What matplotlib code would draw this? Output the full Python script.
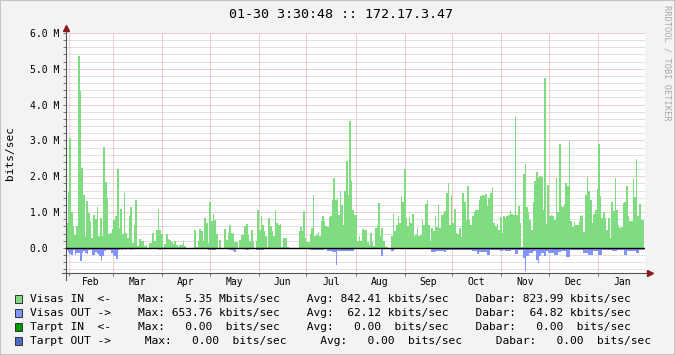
import numpy as np
import matplotlib
matplotlib.use("Agg")
import matplotlib.pyplot as plt
from matplotlib.patches import Rectangle

# graph window: one year up to 01-30 3:30:48
START = np.datetime64("2014-01-30T03:30:48")
END = np.datetime64("2015-01-30T03:30:48")

period_bounds = ["2014-01-30T03:30:48", "2014-03-30", "2014-05-29", "2014-07-28",
                 "2014-09-26", "2014-11-25", "2015-01-30T03:30:48"]

# Visas IN (Mbit/s)
in_p1 = [0.70, 1.55, 3.08, 1.01, 0.60, 0.36, 0.60, 5.35, 4.37, 2.22, 1.48, 0.33,
         1.31, 0.97, 0.75, 0.28, 0.92, 0.81, 1.15, 0.33, 0.84, 0.33, 2.83, 1.85,
         1.39, 0.39, 0.42, 0.53, 0.78, 0.88, 2.20, 0.56, 1.10, 0.39, 1.53, 0.42,
         0.28, 0.88, 1.14, 0.14, 0.65, 1.34, 0.05, 0.25, 0.19, 0.19, 0.05, 0.07,
         0.00, 0.14, 0.14, 0.42, 0.19, 0.51, 1.10]
in_p2 = [0.51, 0.40, 0.03, 0.12, 0.40, 0.26, 0.23, 0.16, 0.12, 0.19, 0.07, 0.03,
         0.07, 0.09, 0.19, 0.05, 0.00, 0.00, 0.00, 0.00, 0.00, 0.51, 0.03, 0.19,
         0.53, 0.47, 0.19, 0.84, 0.70, 0.14, 1.28, 0.74, 0.96, 0.79, 0.40, 0.00,
         0.21, 0.00, 0.00, 0.54, 0.21, 0.42, 0.65, 0.42, 0.40, 0.17, 0.17, 0.00,
         0.21, 0.37, 0.37, 0.62, 0.68, 0.37, 0.19, 0.49, 0.16]
in_p3 = [0.00, 0.20, 1.07, 0.51, 0.90, 0.65, 0.47, 0.33, 0.02, 0.84, 0.60, 0.48,
         0.34, 1.07, 0.70, 0.65, 0.68, 0.02, 0.29, 0.29, 0.29, 0.02, 0.00, 0.00,
         0.00, 0.00, 0.00, 0.00, 0.48, 0.58, 0.47, 1.02, 0.28, 0.16, 0.17, 0.40,
         0.56, 1.49, 0.33, 0.37, 0.45, 0.33, 0.76, 0.88, 0.74, 0.60, 0.59, 0.86,
         0.88, 1.35, 1.94, 1.35, 1.40, 0.93, 1.58, 1.21, 0.65, 1.58, 2.42, 1.49]
in_p4 = [3.55, 1.86, 1.07, 0.93, 0.93, 0.19, 0.34, 0.19, 0.53, 0.51, 0.51, 0.16,
         0.09, 0.42, 0.17, 0.05, 0.56, 0.60, 1.26, 0.33, 0.56, 0.19, 0.05, 0.02,
         0.00, 0.00, 0.33, 0.96, 0.47, 0.65, 0.88, 0.70, 1.46, 1.29, 2.19, 0.84,
         0.62, 0.87, 0.70, 0.96, 0.33, 0.37, 0.56, 0.34, 0.37, 0.79, 0.65, 1.24,
         1.33, 0.65, 0.20, 0.56, 0.47, 0.88, 0.59, 1.21, 0.56, 0.93, 0.96]
in_p5 = [1.02, 1.54, 1.80, 0.65, 1.49, 0.70, 1.09, 0.42, 0.40, 0.56, 0.31, 1.54,
         1.28, 0.79, 1.74, 0.79, 0.65, 0.88, 1.00, 1.07, 1.07, 1.33, 1.46, 1.49,
         1.46, 1.51, 1.18, 1.40, 1.54, 1.69, 0.70, 0.60, 0.68, 0.51, 0.87, 0.42,
         0.88, 0.84, 0.90, 0.93, 1.04, 0.96, 0.93, 3.66, 0.93, 1.18, 0.70, 0.03,
         2.05, 2.33, 1.14, 1.00, 0.79, 0.51, 1.28, 1.86, 2.11, 1.96]
in_p6 = [2.00, 1.98, 1.07, 4.73, 0.68, 1.77, 0.90, 0.93, 0.88, 0.79, 1.96, 1.00,
         2.89, 1.16, 1.15, 1.24, 1.80, 1.74, 2.98, 0.74, 0.58, 0.72, 0.63, 0.65,
         0.74, 0.88, 0.93, 0.44, 1.49, 1.98, 1.58, 1.35, 0.70, 0.96, 1.07, 1.65,
         2.89, 1.44, 0.84, 1.00, 0.84, 0.51, 0.84, 0.28, 1.28, 1.02, 1.96, 1.07,
         0.65, 0.56, 0.58, 1.26, 1.28, 1.74, 0.88, 0.74, 0.74, 1.93, 1.42, 2.47,
         0.90, 1.24, 0.79, 0.79]

# Visas OUT (Mbit/s, drawn below zero)
out_p1 = [-0.07, -0.12, -0.16, -0.19, -0.07, -0.21, -0.14, -0.14, -0.37, -0.14,
          -0.09, -0.14, -0.16, -0.07, -0.05, -0.19, -0.19, -0.11, -0.16, -0.23,
          -0.37, -0.23, -0.09, -0.05, -0.05, -0.07, -0.14, -0.19, -0.23, -0.30,
          -0.05, -0.03, -0.05, -0.02, -0.07, -0.02, -0.02, -0.05, -0.02, -0.01,
          -0.01, -0.03, -0.01, -0.01, -0.01, -0.02, -0.01, -0.01, -0.02, -0.01,
          -0.02, -0.03, -0.02, -0.03]
out_p2 = [-0.05, -0.02, -0.01, -0.02, -0.01, -0.02, -0.01, -0.02, -0.01, -0.01,
          -0.02, -0.01, -0.01, -0.02, -0.01, -0.01, -0.01, 0.00, 0.00, 0.00,
          0.00, 0.00, -0.01, -0.01, -0.01, -0.04, -0.04, -0.01, -0.01, -0.05,
          -0.05, -0.05, -0.05, -0.05, -0.01, 0.00, -0.01, 0.00, 0.00, -0.01,
          -0.01, -0.01, -0.07, -0.07, -0.09, -0.11, -0.02, -0.02, -0.02, -0.02,
          -0.02, -0.02, -0.05, -0.05, -0.03, -0.03, -0.03]
out_p3 = [-0.01, -0.05, -0.05, -0.05, -0.05, -0.05, -0.01, -0.03, -0.03, -0.03,
          -0.03, -0.03, -0.03, -0.03, -0.01, -0.01, -0.01, -0.01, 0.00, 0.00,
          0.00, 0.00, 0.00, 0.00, 0.00, -0.01, -0.03, -0.03, -0.03, -0.03,
          -0.01, -0.01, -0.01, -0.07, -0.07, -0.07, -0.07, -0.07, -0.07, -0.07,
          -0.07, -0.03, -0.03, -0.09, -0.09, -0.09, -0.12, -0.12, -0.47, -0.09,
          -0.09, -0.09, -0.09, -0.09, -0.09, -0.09]
out_p4 = [-0.09, -0.09, -0.09, -0.03, -0.03, -0.02, -0.03, -0.04, -0.03, -0.03,
          -0.02, -0.03, -0.03, -0.04, -0.03, -0.02, -0.03, -0.03, -0.03, -0.23,
          -0.02, -0.02, -0.02, -0.02, -0.02, -0.09, -0.09, -0.03, -0.03, -0.02,
          -0.03, -0.04, -0.03, -0.03, -0.02, -0.03, -0.03, -0.04, -0.03, -0.03,
          -0.02, -0.03, -0.03, -0.03, -0.04, -0.03, -0.02, -0.03, -0.03, -0.12,
          -0.12, -0.12, -0.09, -0.09, -0.09, -0.09, -0.09]
out_p5 = [-0.12, -0.05, -0.05, -0.05, -0.05, -0.05, -0.05, -0.05, -0.05, -0.06,
          -0.06, -0.06, -0.06, -0.06, -0.06, -0.06, -0.06, -0.09, -0.09, -0.09,
          -0.16, -0.11, -0.11, -0.11, -0.11, -0.11, -0.21, -0.21, -0.05, -0.05,
          -0.05, -0.05, -0.05, -0.05, -0.09, -0.09, -0.05, -0.09, -0.09, -0.09,
          -0.09, -0.06, -0.06, -0.17, -0.17, -0.05, -0.05, -0.05, -0.28, -0.65,
          -0.23, -0.23, -0.14, -0.14, -0.09, -0.09, -0.33, -0.42]
out_p6 = [-0.23, -0.14, -0.14, -0.23, -0.09, -0.14, -0.14, -0.14, -0.14, -0.19,
          -0.19, -0.12, -0.12, -0.09, -0.09, -0.09, -0.25, -0.25, -0.05, -0.05,
          -0.05, -0.05, -0.05, -0.05, -0.05, -0.05, -0.14, -0.14, -0.14, -0.19,
          -0.19, -0.19, -0.09, -0.09, -0.09, -0.19, -0.19, -0.05, -0.05, -0.05,
          -0.05, -0.05, -0.05, -0.09, -0.09, -0.09, -0.06, -0.06, -0.06, -0.06,
          -0.19, -0.19, -0.09, -0.09, -0.09, -0.09, -0.09, -0.14, -0.14, -0.05,
          -0.05, -0.05]

in_periods = [in_p1, in_p2, in_p3, in_p4, in_p5, in_p6]
out_periods = [out_p1, out_p2, out_p3, out_p4, out_p5, out_p6]

month_names = ["Feb", "Mar", "Apr", "May", "Jun", "Jul",
               "Aug", "Sep", "Oct", "Nov", "Dec", "Jan"]
ytick_vals = [0, 1, 2, 3, 4, 5, 6]
ytick_labels = ["0.0  ", "1.0 M", "2.0 M", "3.0 M", "4.0 M", "5.0 M", "6.0 M"]

title = "01-30 3:30:48 :: 172.17.3.47"
legend_rows = [
    ("#80DC80", "Visas IN  <-    Max:   5.35 Mbits/sec    Avg: 842.41 kbits/sec    Dabar: 823.99 kbits/sec"),
    ("#8494FF", "Visas OUT ->    Max: 653.76 kbits/sec    Avg:  62.12 kbits/sec    Dabar:  64.82 kbits/sec"),
    ("#009A00", "Tarpt IN  <-    Max:   0.00  bits/sec    Avg:   0.00  bits/sec    Dabar:   0.00  bits/sec"),
    ("#4D6CC8", "Tarpt OUT ->     Max:   0.00  bits/sec     Avg:   0.00  bits/sec     Dabar:   0.00  bits/sec"),
]

GREEN = "#80DC80"
BLUE = "#8494FF"
MONO = "DejaVu Sans Mono"
W, H = 675, 355


def day_of(stamp):
    t = np.datetime64(stamp, "s")
    return (t - START) / np.timedelta64(1, "D")


def stitched(periods):
    """Join the per-slice lists into one series with its bin edges."""
    edges, vals = [day_of(period_bounds[0])], []
    for k, part in enumerate(periods):
        a, b = day_of(period_bounds[k]), day_of(period_bounds[k + 1])
        edges.extend(np.linspace(a, b, len(part) + 1)[1:])
        vals.extend(part)
    return np.array(vals), np.array(edges)


fig = plt.figure(figsize=(W / 100, H / 100), dpi=100, facecolor="#F3F3F3")
ax = fig.add_axes([66 / W, 82 / H, 579 / W, 240 / H])
ax.set_facecolor("white")

in_vals, in_edges = stitched(in_periods)
out_vals, out_edges = stitched(out_periods)
ax.stairs(in_vals, in_edges, fill=True, color=GREEN, baseline=0, lw=0)
ax.stairs(out_vals, out_edges, fill=True, color=BLUE, baseline=0, lw=0)

span = day_of(END)
ax.set_xlim(0, span * 579 / 578)
ax.set_ylim(-0.70, 6.0)

# month boundaries as major ticks, names centred in each month
month_starts = np.arange(np.datetime64("2014-02"), np.datetime64("2015-03"),
                         np.timedelta64(1, "M"))
m_days = np.array([day_of(m.astype("datetime64[s]")) for m in month_starts])
ax.set_xticks(m_days[:-1])
ax.set_xticklabels([])
ax.set_xticks((m_days[:-1] + m_days[1:]) / 2, minor=True)
ax.set_xticklabels(month_names, minor=True, family=MONO, fontsize=7)
ax.tick_params(axis="x", which="major", length=2.5, color="#777777", width=0.7)
ax.tick_params(axis="x", which="minor", length=0, pad=3)

ax.set_yticks(ytick_vals)
ax.set_yticklabels(ytick_labels, family=MONO, fontsize=7)
ax.set_yticks(np.arange(-0.6, 6.0, 0.2), minor=True)
ax.tick_params(axis="y", which="both", length=2.5, color="#777777",
               width=0.7, pad=2)

dot = (0, (1, 1))
ax.yaxis.grid(True, which="minor", color="#C4C4C4", ls=dot, lw=0.72)
ax.yaxis.grid(True, which="major", color="#E49C9C", ls=dot, lw=0.72)
ax.xaxis.grid(True, which="major", color="#E49C9C", ls=dot, lw=0.72)
ax.set_axisbelow(True)

for s in ax.spines.values():
    s.set_visible(False)

# axis lines with arrow heads, zero line
ax.plot([0, 0], [-7 / 240, 1 + 4 / 240], color="#555555", lw=0.8,
        transform=ax.transAxes, clip_on=False)
ax.plot([-4 / 579, 1 + 2 / 579], [0, 0], color="#555555", lw=0.8,
        transform=ax.transAxes, clip_on=False)
ax.plot([0], [1 + 5 / 240], marker="^", ms=5, color="#8B1A1A",
        transform=ax.transAxes, clip_on=False)
ax.plot([1 + 5 / 579], [0], marker=">", ms=5, color="#8B1A1A",
        transform=ax.transAxes, clip_on=False)
ax.axhline(0, color="black", lw=1.0)

ax.set_ylabel("bits/sec", family=MONO, fontsize=8)
ax.yaxis.label.set_va("center")
ax.yaxis.set_label_coords(-56 / 579, 0.5)

fig.text(341 / W, 1 - 15 / H, title, ha="center", va="center",
         family=MONO, fontsize=9.6)
fig.text(667 / W, 1 - 5 / H, "RRDTOOL / TOBI OETIKER", rotation=270,
         ha="center", va="top", family=MONO, fontsize=6.2, color="#A8A8A8")

for i, (col, row) in enumerate(legend_rows):
    yc = 299 + 14 * i
    fig.add_artist(Rectangle((15 / W, 1 - (yc + 4) / H), 7 / W, 8 / H,
                             transform=fig.transFigure, facecolor=col,
                             edgecolor="#333333", lw=0.7))
    fig.text(30 / W, 1 - yc / H, row, ha="left", va="center",
             family=MONO, fontsize=8.1)

# thin frame round the whole picture
fig.add_artist(Rectangle((0, 0), 1, 1, transform=fig.transFigure,
                         fill=False, edgecolor="#C4C4C4", lw=1.5))

fig.savefig("out.png", dpi=100, facecolor=fig.get_facecolor())
